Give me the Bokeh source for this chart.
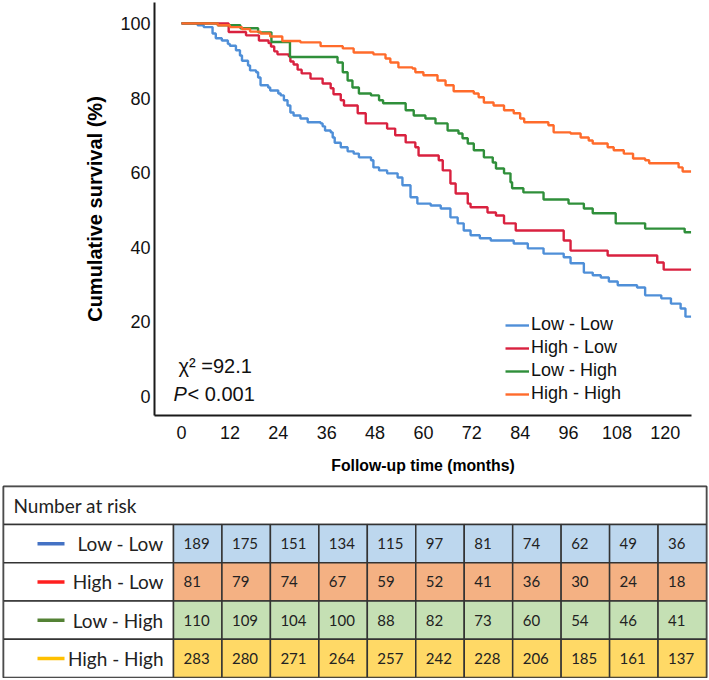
from bokeh.plotting import figure
from bokeh.models import Range1d, FixedTicker, Legend, LegendItem, Label
from bokeh.embed import file_html
from bokeh.resources import INLINE
from bokeh.core.properties import value

# ---------------- data ----------------
groups = ["Low - Low", "High - Low", "Low - High", "High - High"]
curve_colors = ["#4f8fd8", "#d9213f", "#2f8f3a", "#ff6b2b"]
end_time = 126.4

ll_t = [4, 5.5, 7.7, 8.5, 10, 11.5, 12, 13.5, 14.5, 15, 16.5, 17, 18.5, 19, 19.6, 21.5, 22, 24, 24.6, 25.4,
        26.3, 27, 27.8, 29.5, 31.3, 34.5, 35, 35.6, 37, 37.5, 38, 39.5, 41.2, 42.7, 44, 47, 47.6, 49, 51, 53.6,
        54.8, 56.8, 58.5, 61.8, 64.3, 66.7, 68.5, 70, 71.7, 74, 76.7, 82.4, 85.9, 89.8, 94.8, 96.5, 99.8, 102,
        104, 106, 108.2, 113, 115, 119, 121.4, 123.8, 125]
ll_s = [99.5, 99, 97.3, 96, 95.4, 94.5, 94, 92.8, 91.4, 90, 88.7, 87.4, 86.9, 85.5, 83.4, 82.8, 82, 81.2, 80.7, 79.4,
        78, 76.1, 75.3, 74.5, 73.5, 73.2, 72.4, 71.3, 70.8, 69.4, 68, 66.8, 65.7, 65.1, 64.1, 63.3, 61.4, 60.6, 59.8, 58.7,
        56.6, 53.4, 51.7, 51.2, 50.4, 48, 46.4, 44.5, 43.2, 42.4, 41.8, 41, 39.7, 38.3, 37.3, 35.7, 33.2, 32.5,
        31.9, 30.8, 29.8, 29.2, 27.1, 26.3, 24.9, 23.6, 21.4]

hl_t = [11.7, 16, 19.2, 21.6, 22.2, 23, 23.8, 26.6, 27, 27.8, 28.8, 29.8, 32, 35, 37, 37.7, 39.5, 40.3, 43.7, 45.7,
        51, 53, 55.6, 58, 58.8, 63.8, 64.8, 66.7, 68, 71, 71.7, 75.9, 78, 80, 82.9, 94.8, 96.5, 105.7, 118, 119.6]
hl_s = [97.7, 96.8, 95.4, 94.7, 93.8, 92.5, 91.7, 91.2, 89.8, 89, 87.6, 86.6, 85.2, 83.9, 82.6, 81, 79.4, 78, 75.9, 73.2,
        71.8, 70, 68.1, 66.8, 64.6, 63.3, 60.6, 57.1, 54.4, 51.7, 50.7, 49.3, 48.5, 46.4, 44.5, 41.8, 39.1, 37.8, 35.9, 34]

lh_t = [9, 14.6, 19, 22.3, 26.9, 38.7, 40, 41.2, 42.4, 44, 47, 49, 50, 55.6, 57.6, 60.5, 63, 66, 68.7, 69.7,
        71, 72.5, 75, 77.2, 78, 80, 81.6, 82, 84.8, 89.8, 96, 99.8, 102, 107.7, 115, 124.8]
lh_s = [99.5, 98.7, 97.6, 95, 91, 89.5, 86.9, 84.7, 82.8, 81.2, 80.7, 79.4, 78.6, 76.7, 75.3, 74.5, 73.2, 71.3, 70.5, 69.2,
        67.8, 66, 64.1, 62.7, 61.1, 59.8, 57.4, 55.8, 54.7, 52.8, 51.7, 50.4, 49.1, 46.4, 45, 44]

hh_t = [9, 12, 15, 17, 19.6, 22, 25, 29.5, 34.5, 40, 42.7, 47.6, 50.6, 51.8, 53.8, 57.3, 58, 60, 63.5, 65.5,
        67.5, 72.5, 73.7, 75, 77.4, 80, 82.4, 84, 85, 91, 92.3, 96.5, 99, 101, 102, 105.7, 107.2, 109.7, 112, 115,
        116, 123.3, 124.3]
hh_s = [99.5, 99, 98.5, 97.8, 97.3, 96.5, 95.3, 94.9, 93.9, 93.3, 92.2, 91.7, 90.6, 89.5, 88.2, 87.9, 86.9, 86.1, 84.7, 83.4,
        81.8, 81.2, 80.2, 78.8, 78, 76.7, 75.9, 74.5, 73.5, 72.7, 70.8, 70.5, 69.4, 68.6, 67.8, 66.8, 66, 65.1, 63.8, 63.3,
        62.5, 61.4, 60.3]

x_ticks = [0, 12, 24, 36, 48, 60, 72, 84, 96, 108, 120]
y_ticks = [0, 20, 40, 60, 80, 100]

risk_ll = [189, 175, 151, 134, 115, 97, 81, 74, 62, 49, 36]
risk_hl = [81, 79, 74, 67, 59, 52, 41, 36, 30, 24, 18]
risk_lh = [110, 109, 104, 100, 88, 82, 73, 60, 54, 46, 41]
risk_hh = [283, 280, 271, 264, 257, 242, 228, 206, 185, 161, 137]
table_line_colors = ["#4472c4", "#ff1f1f", "#548235", "#ffc000"]
cell_colors = ["#bdd7ee", "#f4b183", "#c5e0b4", "#ffd966"]

# ---------------- KM plot ----------------
p = figure(width=709, height=485, x_range=Range1d(-6.7, 126.5), y_range=Range1d(-5.1, 105.6),
           output_backend="svg", toolbar_location=None,
           min_border_left=154, min_border_right=18, min_border_top=2, min_border_bottom=70)
p.grid.visible = False
p.outline_line_color = None
p.background_fill_color = "white"
p.border_fill_color = "white"

series = [(ll_t, ll_s), (hl_t, hl_s), (lh_t, lh_s), (hh_t, hh_s)]
renderers = []
for (t, s), c in zip(series, curve_colors):
    xs = [0] + t + [end_time]
    ys = [100] + s + [s[-1]]
    r = p.step(xs, ys, mode="after", line_color=c, line_width=2.4)
    renderers.append(r)

legend = Legend(items=[LegendItem(label=g, renderers=[r]) for g, r in zip(groups, renderers)],
                location=(351, 11), padding=0, margin=0, spacing=2,
                glyph_width=24, glyph_height=20, label_height=20, label_standoff=2,
                label_text_font="Liberation Sans", label_text_font_size="18px", label_text_color="#111111",
                border_line_color=None, background_fill_alpha=0)
p.add_layout(legend)

p.xaxis.ticker = FixedTicker(ticks=x_ticks)
p.yaxis.ticker = FixedTicker(ticks=y_ticks)
for ax in (p.xaxis[0], p.yaxis[0]):
    ax.major_tick_line_color = None
    ax.minor_tick_line_color = None
    ax.major_tick_out = 0
    ax.major_tick_in = 0
    ax.axis_line_width = 2
    ax.axis_line_color = "#1a1a1a"
    ax.major_label_text_font = "Liberation Sans"
    ax.major_label_text_font_size = "18px"
    ax.major_label_text_color = "#111111"
    ax.axis_label_text_font = "Liberation Sans"
    ax.axis_label_text_font_style = "bold"
    ax.axis_label_text_color = "#000000"

p.xaxis.axis_label = "Follow-up time (months)"
p.xaxis.axis_label_text_font_size = "15.8px"
p.xaxis.major_label_standoff = 10
p.xaxis.axis_label_standoff = 15
p.yaxis.axis_label = "Cumulative survival (%)"
p.yaxis.axis_label_text_font_size = "20px"
p.yaxis.major_label_standoff = 4
p.yaxis.axis_label_standoff = 11

p.add_layout(Label(x=24, y=50, x_units="screen", y_units="screen", text="\u03c7\u00b2 =92.1",
                   text_font="Liberation Sans", text_font_size="20px", text_color="#111111",
                   text_baseline="middle"))
p.add_layout(Label(x=19, y=22, x_units="screen", y_units="screen", text="P",
                   text_font="Liberation Sans", text_font_size="20px", text_font_style="italic",
                   text_color="#111111", text_baseline="middle"))
p.add_layout(Label(x=33, y=22, x_units="screen", y_units="screen", text="< 0.001",
                   text_font="Liberation Sans", text_font_size="20px", text_color="#111111",
                   text_baseline="middle"))

# ---------------- number at risk table ----------------
n_cols = len(x_ticks)
col_px = 533 / 11
label_w = 170 / col_px
hdr_h = 38 / 38.25
t = figure(width=709, height=193, x_range=Range1d(-label_w, n_cols), y_range=Range1d(0, 4 + hdr_h),
           output_backend="svg", toolbar_location=None,
           min_border_left=3, min_border_right=3, min_border_top=1, min_border_bottom=1,
           x_axis_location=None, y_axis_location=None)
t.grid.visible = False
t.outline_line_color = "#333333"
t.outline_line_width = 2
t.border_fill_color = "white"

border = "#333333"
# header row
t.rect(x=[(n_cols - label_w) / 2], y=[4 + hdr_h / 2], width=[n_cols + label_w], height=[hdr_h],
       fill_color="white", line_color=border, line_width=1.5)
t.text(x=[-label_w], y=[4 + hdr_h / 2], text=["Number at risk"], x_offset=10,
       text_align="left", text_baseline="middle", text_font=value("Lato"),
       text_font_size="19px", text_color="#222222")

risk_rows = [risk_ll, risk_hl, risk_lh, risk_hh]
for i, (g, vals) in enumerate(zip(groups, risk_rows)):
    yc = 3 - i + 0.5
    # label cell
    t.rect(x=[-label_w / 2], y=[yc], width=[label_w], height=[1],
           fill_color="white", line_color=border, line_width=1.5)
    t.segment(x0=[-label_w + 34 / col_px], x1=[-label_w + 61 / col_px], y0=[yc], y1=[yc],
              line_color=table_line_colors[i], line_width=3.5)
    t.text(x=[0], y=[yc], text=[g], x_offset=-10, text_align="right", text_baseline="middle",
           text_font=value("Lato"), text_font_size="19px", text_color="#222222")
    # data cells
    xs = [j + 0.5 for j in range(n_cols)]
    t.rect(x=xs, y=[yc] * n_cols, width=1, height=1, fill_color=cell_colors[i],
           line_color=border, line_width=1.5)
    t.text(x=list(range(n_cols)), y=[yc] * n_cols, text=[str(v) for v in vals], x_offset=10,
           text_align="left", text_baseline="middle", text_font=value("Lato"),
           text_font_size="15px", text_color="#222222")

open("out.html", "w").write(file_html((p, t), INLINE))
